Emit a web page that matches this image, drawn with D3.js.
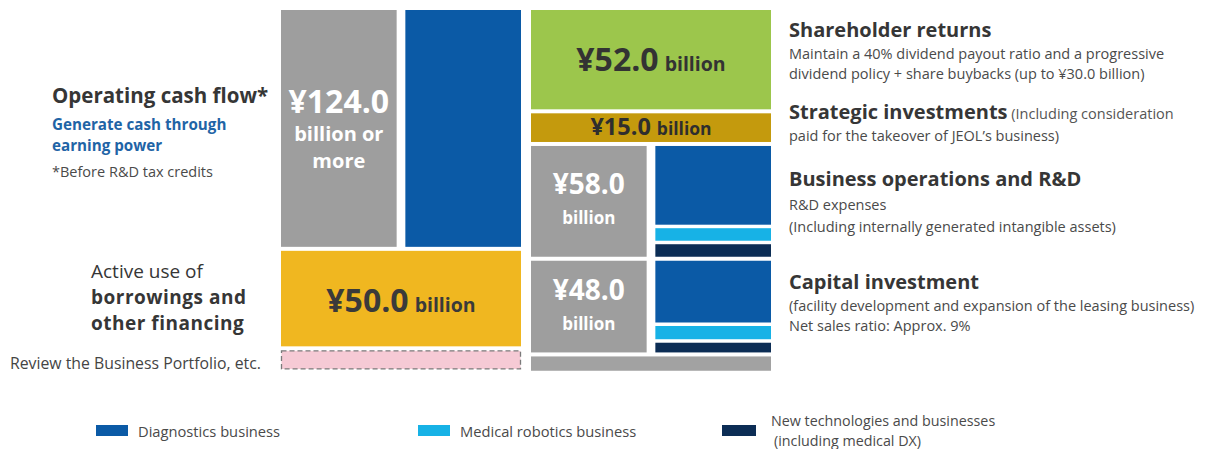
<!DOCTYPE html>
<html>
<head>
<meta charset="utf-8">
<script src="https://cdn.jsdelivr.net/npm/d3@7"></script>
<style>
  html, body { margin: 0; padding: 0; background: #ffffff; }
  svg { display: block; font-family: "Open Sans", "Noto Sans", sans-serif; }
</style>
</head>
<body>
<svg id="chart" width="1206" height="449"></svg>
<script>
// Cash sources (billion yen)
const sourceKeys   = ["ocf", "financing", "portfolio"];
const sourceValues = [124, 50, 10];

// Cash uses (billion yen)
const useKeys   = ["returns", "strategic", "operations", "capex", "other"];
const useValues = [52, 15, 58, 48, 7.5];

// Business segment breakdown inside the R&D and capex blocks
const segmentNames  = ["Diagnostics business", "Medical robotics business", "New technologies and businesses"];
const rdSplit       = [44, 7, 7];
const capexSplit    = [35, 7.5, 5.5];

const segColor = d3.scaleOrdinal().domain(segmentNames).range(["#0b5aa6", "#17b2e6", "#0c2d55"]);

const svg = d3.select("#chart");

// Vertical scale: billions -> pixels, blocks stacked with a fixed gap
const yv = d3.scaleLinear().domain([0, 100]).range([0, 191]);
const GAP = 4, TOP = 10;

function stack(values) {
  let y = TOP;
  return values.map(v => {
    const h = yv(v);
    const r = { y0: y, y1: y + h, v };
    y += h + GAP;
    return r;
  });
}

const col = d3.scaleBand().domain(["sources", "uses"]).range([281, 771]).paddingInner(0.04);
const half = d3.scaleBand().domain(["total", "segments"]).range([0, col.bandwidth()]).paddingInner(0.07);

const src = stack(sourceValues);
const use = stack(useValues);

const xs = col("sources"), xu = col("uses"), W = col.bandwidth();

// ---------- Sources column ----------
// Operating cash flow: gray total block + diagnostics block beside it
svg.append("rect").attr("x", xs + half("total")).attr("y", src[0].y0)
  .attr("width", half.bandwidth()).attr("height", src[0].y1 - src[0].y0).attr("fill", "#9e9e9e");
svg.append("rect").attr("x", xs + half("segments")).attr("y", src[0].y0)
  .attr("width", half.bandwidth()).attr("height", src[0].y1 - src[0].y0).attr("fill", segColor(segmentNames[0]));

// Borrowings and other financing
svg.append("rect").attr("x", xs).attr("y", src[1].y0)
  .attr("width", W).attr("height", src[1].y1 - src[1].y0).attr("fill", "#f0b720");

// Business portfolio review (dashed)
svg.append("rect").attr("x", xs + 0.5).attr("y", src[2].y0 + 0.5)
  .attr("width", W - 1).attr("height", src[2].y1 - src[2].y0 - 1)
  .attr("fill", "#f6cad5").attr("stroke", "#7a7a7a").attr("stroke-width", 1.3)
  .attr("stroke-dasharray", "5,3");

// ---------- Uses column ----------
svg.append("rect").attr("x", xu).attr("y", use[0].y0)
  .attr("width", W).attr("height", use[0].y1 - use[0].y0).attr("fill", "#9cc64c");
svg.append("rect").attr("x", xu).attr("y", use[1].y0)
  .attr("width", W).attr("height", use[1].y1 - use[1].y0).attr("fill", "#c49a0d");

function segmentedBlock(block, split) {
  svg.append("rect").attr("x", xu + half("total")).attr("y", block.y0)
    .attr("width", half.bandwidth()).attr("height", block.y1 - block.y0).attr("fill", "#9e9e9e");
  const innerGap = 3.5;
  const avail = (block.y1 - block.y0) - innerGap * (split.length - 1);
  const sy = d3.scaleLinear().domain([0, d3.sum(split)]).range([0, avail]);
  let y = block.y0;
  split.forEach((v, i) => {
    svg.append("rect").attr("x", xu + half("segments")).attr("y", y)
      .attr("width", half.bandwidth()).attr("height", sy(v)).attr("fill", segColor(segmentNames[i]));
    y += sy(v) + innerGap;
  });
}
segmentedBlock(use[2], rdSplit);
segmentedBlock(use[3], capexSplit);

svg.append("rect").attr("x", xu).attr("y", use[4].y0)
  .attr("width", W).attr("height", use[4].y1 - use[4].y0).attr("fill", "#a2a2a2");

// ---------- Block value labels ----------
function valueLabel(cx, y, value, big, small, color, unit) {
  const t = svg.append("text").attr("x", cx).attr("y", y).attr("text-anchor", "middle")
    .attr("fill", color).attr("font-weight", 700);
  t.append("tspan").attr("font-size", big).text("¥" + value.toFixed(1));
  if (unit) t.append("tspan").attr("font-size", small).attr("dx", 6).text(unit);
}

const cTotalS = xs + half("total") + half.bandwidth() / 2;
valueLabel(cTotalS, src[0].y0 + 103, sourceValues[0], 32, 20, "#ffffff", null);
svg.append("text").attr("x", cTotalS).attr("y", src[0].y0 + 131).attr("text-anchor", "middle")
  .attr("fill", "#fff").attr("font-weight", 700).attr("font-size", 20).text("billion or");
svg.append("text").attr("x", cTotalS).attr("y", src[0].y0 + 158).attr("text-anchor", "middle")
  .attr("fill", "#fff").attr("font-weight", 700).attr("font-size", 20).text("more");

valueLabel(xs + W / 2, (src[1].y0 + src[1].y1) / 2 + 13, sourceValues[1], 32, 19.5, "#3a3a3a", "billion");
valueLabel(xu + W / 2, (use[0].y0 + use[0].y1) / 2 + 11, useValues[0], 32, 19.5, "#333333", "billion");
valueLabel(xu + W / 2, (use[1].y0 + use[1].y1) / 2 + 7, useValues[1], 23.5, 17.5, "#2e2e2e", "billion");

const cTotalU = xu + half("total") + half.bandwidth() / 2;
[[use[2], useValues[2]], [use[3], useValues[3]]].forEach(([b, v]) => {
  const mid = (b.y0 + b.y1) / 2;
  valueLabel(cTotalU, mid - 7, v, 28, 17, "#ffffff", null);
  svg.append("text").attr("x", cTotalU).attr("y", mid + 23).attr("text-anchor", "middle")
    .attr("fill", "#fff").attr("font-weight", 700).attr("font-size", 17).text("billion");
});

// ---------- Left annotations ----------
const dark = "#363636";
svg.append("text").attr("x", 52).attr("y", 103).attr("fill", dark).attr("font-weight", 700)
  .attr("font-size", 20.5).text("Operating cash flow*");
svg.append("text").attr("x", 52).attr("y", 130).attr("fill", "#1f64a6").attr("font-weight", 700)
  .attr("font-size", 15.2).text("Generate cash through");
svg.append("text").attr("x", 52).attr("y", 150.8).attr("fill", "#1f64a6").attr("font-weight", 700)
  .attr("font-size", 15.2).text("earning power");
svg.append("text").attr("x", 52).attr("y", 177).attr("fill", "#4a4a4a")
  .attr("font-size", 14.5).text("*Before R&D tax credits");

svg.append("text").attr("x", 91).attr("y", 277.5).attr("fill", dark)
  .attr("font-size", 19).text("Active use of");
svg.append("text").attr("x", 91).attr("y", 304).attr("fill", dark).attr("font-weight", 700)
  .attr("font-size", 19).attr("letter-spacing", 0.5).text("borrowings and");
svg.append("text").attr("x", 91).attr("y", 330.3).attr("fill", dark).attr("font-weight", 700)
  .attr("font-size", 19).attr("letter-spacing", 0.5).text("other financing");
svg.append("text").attr("x", 10).attr("y", 369).attr("fill", "#444")
  .attr("font-size", 15.8).text("Review the Business Portfolio, etc.");

// ---------- Right annotations ----------
const rx = 789;
function heading(y, text, note) {
  const t = svg.append("text").attr("x", rx).attr("y", y).attr("fill", dark);
  t.append("tspan").attr("font-weight", 700).attr("font-size", 20).text(text);
  if (note) t.append("tspan").attr("font-size", 14.5).attr("fill", "#555").text(" " + note);
}
function line(y, text) {
  svg.append("text").attr("x", rx).attr("y", y).attr("fill", "#4a4a4a")
    .attr("font-size", 14.5).text(text);
}
heading(37, "Shareholder returns");
line(58.5, "Maintain a 40% dividend payout ratio and a progressive");
line(78.5, "dividend policy + share buybacks (up to ¥30.0 billion)");
heading(119, "Strategic investments", "(Including consideration");
line(141, "paid for the takeover of JEOL’s business)");
heading(186, "Business operations and R&D");
line(210, "R&D expenses");
line(232, "(Including internally generated intangible assets)");
heading(289, "Capital investment");
line(311, "(facility development and expansion of the leasing business)");
line(331, "Net sales ratio: Approx. 9%");

// ---------- Legend ----------
const legendX = [96, 418, 722];
segmentNames.forEach((name, i) => {
  const g = svg.append("g").attr("transform", `translate(${legendX[i]},425)`);
  const sw = i === 2 ? 34 : 32;
  g.append("rect").attr("width", sw).attr("height", 11).attr("fill", segColor(name));
  const tx = sw + (i === 2 ? 15 : 10);
  if (i < 2) {
    g.append("text").attr("x", tx).attr("y", 12).attr("fill", "#4a4a4a").attr("font-size", 14.7).text(name);
  } else {
    g.append("text").attr("x", tx).attr("y", 1).attr("fill", "#4a4a4a").attr("font-size", 14.3).text(name);
    g.append("text").attr("x", tx + 3).attr("y", 20.8).attr("fill", "#4a4a4a").attr("font-size", 14.3).text("(including medical DX)");
  }
});
</script>
</body>
</html>
